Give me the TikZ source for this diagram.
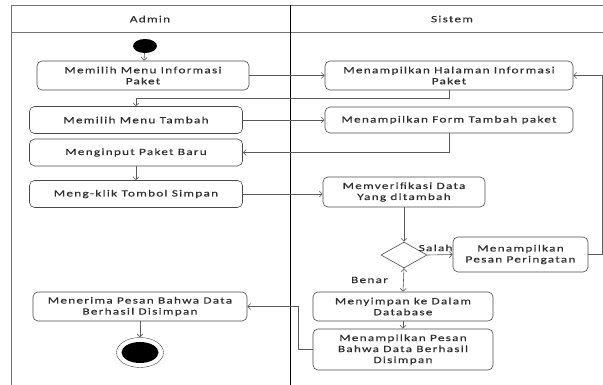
\documentclass[tikz,border=0pt]{standalone}
\usepackage{fontspec}
\setmainfont[FakeStretch=1.4,LetterSpace=13,FakeBold=0.4]{Carlito}
\usepackage{tikz}
\usetikzlibrary{arrows.meta,shapes.geometric,positioning}

\definecolor{txtgray}{HTML}{2E2E2E}
\definecolor{boxgray}{HTML}{4A4A4A}
\definecolor{lingray}{HTML}{5A5A5A}

\begin{document}
\begin{tikzpicture}[x=1pt, y=-1pt,
    >={Straight Barb[length=3pt,width=6pt]},
    font=\fontsize{9.5}{11}\selectfont, text=txtgray,
    act/.style={draw=boxgray, line width=0.6pt, rounded corners=5pt, align=center, inner sep=2pt, minimum height=27pt},
    flow/.style={draw=lingray, line width=0.6pt},
    lane/.style={draw=black!55, line width=0.6pt}]
  \useasboundingbox (0,0) rectangle (603,385);

  % swimlanes
  \draw[lane] (11,385) -- (11,5) -- (603,5);
  \draw[lane] (11,32) -- (603,32);
  \draw[line width=1pt] (290,5) -- (290,385);
  \node (hadmin) at (150,19) {Admin};
  \node (hsistem) at (452,19) {Sistem};

  % Admin
  \node[ellipse, fill=black, minimum width=24pt, minimum height=14pt, inner sep=0pt] (start) at (145,46) {};
  \node[act, minimum width=212pt, minimum height=29pt] (a1) at (143,75.5) {Memilih Menu Informasi\\Paket};
  \node[act, minimum width=213pt] (a2) at (136,120) {Memilih Menu Tambah};
  \node[act, minimum width=213pt] (a3) at (136,152.5) {Menginput Paket Baru};
  \node[act, minimum width=213pt] (a4) at (136,194) {Meng-klik Tombol Simpan};
  \node[act, minimum width=214pt, minimum height=29pt] (a5) at (140,306.5) {Menerima Pesan Bahwa Data\\Berhasil Disimpan};
  \node[ellipse, draw=boxgray, minimum width=47pt, minimum height=30pt, inner sep=0pt] (end) at (140,352.5) {};
  \node[ellipse, fill=black, minimum width=37pt, minimum height=21pt, inner sep=0pt] (endin) at (end.center) {};

  % Sistem
  \node[act, minimum width=248pt, minimum height=29pt] (s1) at (449,75.5) {Menampilkan Halaman Informasi\\Paket};
  \node[act, minimum width=248pt, minimum height=26pt] (s2) at (449,120) {Menampilkan Form Tambah paket};
  \node[act, minimum width=162pt, minimum height=30pt] (s3) at (404,192) {Memverifikasi Data\\Yang ditambah};
  \node[diamond, draw=boxgray, line width=0.6pt, minimum width=46pt, minimum height=26pt, inner sep=0pt] (dec) at (404,255) {};
  \node[act, minimum width=135pt, minimum height=35pt] (s4) at (520.5,254.5) {Menampilkan\\Pesan Peringatan};
  \node[act, minimum width=180pt, minimum height=29pt] (s5) at (403,306.5) {Menyimpan ke Dalam\\Database};
  \node[act, minimum width=180pt, minimum height=41pt] (s6) at (403,349.5) {Menampilkan Pesan\\Bahwa Data Berhasil\\Disimpan};

  \path[->, flow]
    (start) edge (a1)
    (a1.east) edge (s1.west)
    (a2.east) edge (s2.west)
    (a3) edge (a4)
    (a4.east) edge (a4.east -| s3.west)
    (s3) edge (dec)
    (dec.east) edge node[above, pos=0.25, xshift=2pt] {Salah} (s4.west)
    (dec.south) edge node[left=12pt] {Benar} (s5.north)
    (s5) edge (s6)
    (a5) edge (end);

  \draw[->, flow] (s1.south) -- ++(0,8) -| (a2.north);
  \draw[->, flow] (s2.south) |- (a3.east);
  \draw[->, flow] (s4.east) -- ++(14,0) |- (s1.east);
  \draw[->, flow] (s6.west) -- ++(-14,0) |- (a5.east);
\end{tikzpicture}
\end{document}
